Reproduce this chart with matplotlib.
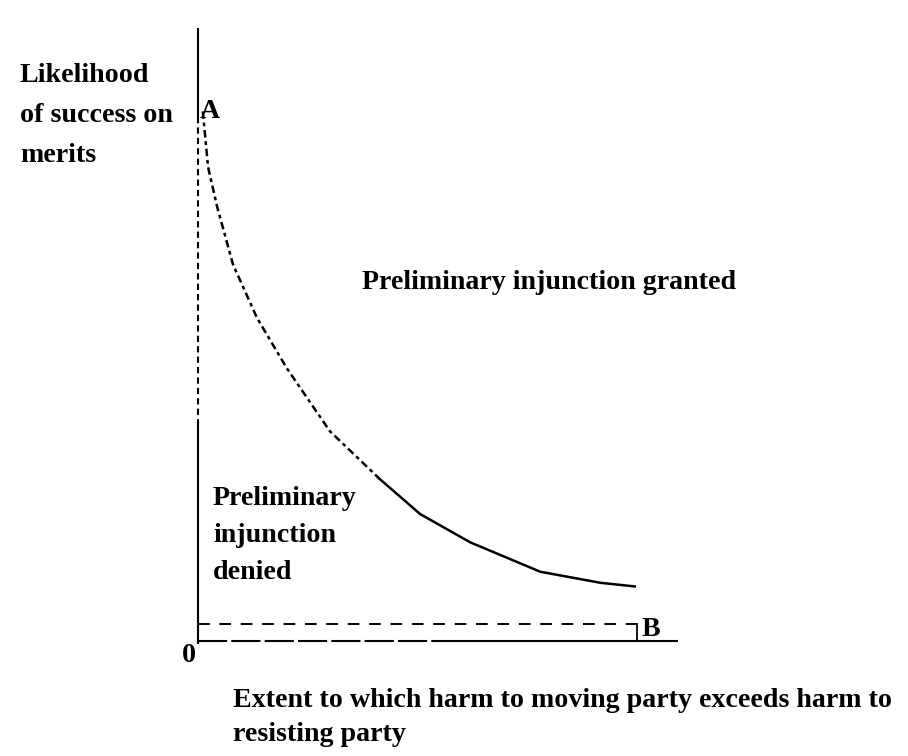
import numpy as np
import matplotlib
matplotlib.use("Agg")
import matplotlib.pyplot as plt

plt.rcParams['font.family'] = ['Liberation Serif', 'DejaVu Serif']

# curve A -> B (fraction of axis length)
curve_x = [0.010, 0.015, 0.021, 0.040, 0.073, 0.123, 0.185, 0.275, 0.379, 0.463, 0.567, 0.713, 0.838, 0.910]
curve_y = [0.864, 0.823, 0.773, 0.708, 0.614, 0.527, 0.445, 0.342, 0.264, 0.207, 0.161, 0.113, 0.095, 0.089]
split = 8      # the upper part is broken up in the scan
b_x = 0.915
b_y = 0.028

ylabel_lines = ['Likelihood', 'of success on', 'merits']
denied_lines = ['Preliminary', 'injunction', 'denied']
xlabel_lines = ['Extent to which harm to moving party exceeds harm to', 'resisting party']

W, H = 908, 756
fig = plt.figure(figsize=(W/100, H/100), dpi=100)
ox, oy, ex, top = 198, 641, 678, 28
ax = fig.add_axes([ox/W, 1-oy/H, (ex-ox)/W, (oy-top)/H])
ax.set_xlim(0, 1)
ax.set_ylim(0, 1)
ax.axis('off')

def ftext(px, py, s, **kw):
    # position in picture pixels, baseline anchored
    fig.text(px/W, 1-py/H, s, va='baseline', ha='left', **kw)

# axes drawn by hand (scan has broken stretches)
k = dict(color='black', lw=1.5, clip_on=False, solid_capstyle='butt')
ax.plot([0, 0], [1, 0.855], **k)
ax.plot([0, 0], [0.855, 0.355], linestyle=(0, (3, 2)), **k)
ax.plot([0, 0], [0.355, -0.005], **k)
ax.plot([0, 0.53], [0, 0], linestyle=(0, (14, 2)), **k)
ax.plot([0.53, 1], [0, 0], **k)

ax.plot(curve_x[:split+1], curve_y[:split+1], color='black', lw=1.8,
        linestyle=(0, (3, 1.5, 1.5, 1.5)), clip_on=False)
ax.plot(curve_x[split:], curve_y[split:], color='black', lw=1.8, clip_on=False)

ax.plot([0, b_x], [b_y, b_y], color='black', lw=1.4, linestyle=(0, (6, 5)))
ax.plot([b_x, b_x], [0, b_y], color='black', lw=1.3)

fs = 20.2
tk = dict(fontsize=fs, fontweight='bold')
for i, s in enumerate(ylabel_lines):
    ftext(20, 82 + 40*i, s, **tk)
for i, s in enumerate(denied_lines):
    ftext(213, 505 + 37*i, s, **tk)
for i, s in enumerate(xlabel_lines):
    ftext(233, 707 + 34*i, s, **tk)
ftext(362, 289, 'Preliminary injunction granted', **tk)
ftext(200, 118, 'A', **tk)
ftext(641, 636, 'B', **tk)
ftext(182, 662, '0', **tk)

fig.savefig('out.png', dpi=100)
